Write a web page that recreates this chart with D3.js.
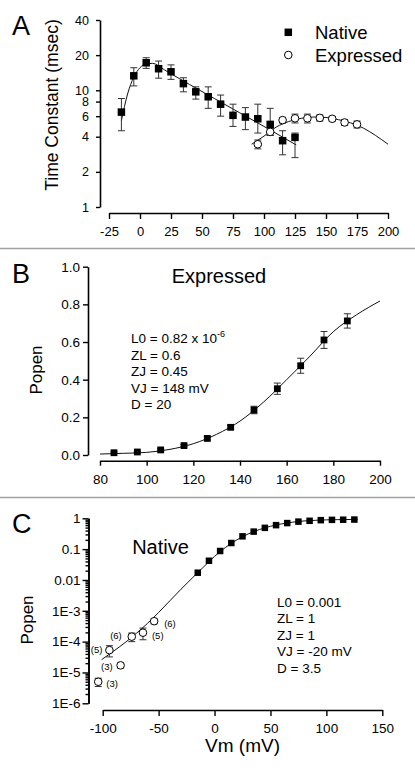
<!DOCTYPE html>
<html><head><meta charset="utf-8">
<script src="https://cdn.jsdelivr.net/npm/d3@7"></script>
<style>
html,body{margin:0;padding:0;background:#fff;}
svg{display:block;}
text{font-family:"Liberation Sans",Arial,sans-serif;fill:#000;}
</style></head>
<body>
<svg id="chart" width="415" height="773"></svg>
<script>
// ---------- Panel A data ----------
const aTicksX = [-25, 0, 25, 50, 75, 100, 125, 150, 175, 200];
const aTicksY = [1, 2, 4, 6, 8, 10, 20, 40];
const nativeV = [-15, -5, 5, 15, 25, 35, 45, 55, 65, 75, 85, 95, 105, 115, 125];
const nativeTau = [6.5, 13.3, 17.2, 15.3, 14.4, 11.4, 9.7, 8.8, 7.6, 6.1, 5.9, 5.7, 5.1, 3.7, 3.95];
const nativeErrHi = [2.0, 2.3, 1.8, 2.5, 2.1, 1.4, 1.0, 1.9, 1.5, 1.5, 1.2, 1.9, 1.9, 0.8, 0.35];
const nativeErrLo = [2.0, 2.4, 1.8, 2.6, 2.0, 1.7, 1.3, 1.8, 1.6, 1.2, 1.3, 1.4, 1.0, 0.9, 1.3];
const exprV_A = [95, 105, 115, 125, 135, 145, 155, 165, 175];
const exprTau = [3.45, 4.4, 5.55, 5.75, 5.75, 5.8, 5.7, 5.3, 5.1];
const exprErr_A = [0.3, 0.3, 0.3, 0.5, 0.5, 0.35, 0.25, 0.3, 0.35];
const nativeFitV = [-15, -10, -5, 0, 5, 10, 20, 30, 40, 60, 80, 100, 126];
const nativeFitTau = [5.5, 9.3, 13.0, 15.6, 16.9, 17.0, 14.9, 12.9, 11.2, 8.5, 6.45, 4.9, 3.4];
const exprFitV_A = [90, 100, 110, 120, 130, 140, 150, 160, 170, 180, 190, 200];
const exprFitTau = [3.45, 4.05, 4.85, 5.4, 5.75, 5.9, 5.85, 5.6, 5.25, 4.75, 4.1, 3.45];
const legendLabels = ["Native", "Expressed"];

// ---------- Panel B data ----------
const bTicksX = [80, 100, 120, 140, 160, 180, 200];
const bTicksY = [0.0, 0.2, 0.4, 0.6, 0.8, 1.0];
const exprV_B = [86, 96, 106, 116, 126, 136, 146, 156, 166, 176, 186];
const exprPo = [0.012, 0.016, 0.027, 0.05, 0.088, 0.147, 0.239, 0.352, 0.474, 0.611, 0.712];
const exprErr_B = [0.004, 0.004, 0.006, 0.006, 0.008, 0.01, 0.02, 0.03, 0.04, 0.045, 0.038];
const exprFitV_B = [80, 90, 100, 110, 120, 130, 140, 150, 160, 170, 180, 190, 200];
const exprFitPo = [0.005, 0.009, 0.014, 0.03, 0.06, 0.11, 0.18, 0.28, 0.40, 0.525, 0.655, 0.745, 0.818];
const bParams = ["ZL = 0.6", "ZJ = 0.45", "VJ = 148 mV", "D = 20"];

// ---------- Panel C data ----------
const cTicksX = [-100, -50, 0, 50, 100, 150];
const cTicksY = [1e-6, 1e-5, 1e-4, 1e-3, 1e-2, 1e-1, 1];
const cTickLabels = ["1E-6", "1E-5", "1E-4", "1E-3", "0.01", "0.1", "1"];
const natV_C = [-15, -5, 5, 15, 25, 35, 45, 55, 65, 75, 85, 95, 105, 115, 125];
const natPo_C = [0.0172, 0.042, 0.087, 0.158, 0.26, 0.37, 0.49, 0.6, 0.7, 0.78, 0.83, 0.87, 0.89, 0.9, 0.91];
const lowV_C = [-104, -94, -84, -74, -64, -54];
const lowPo_C = [5.0e-6, 5.3e-5, 1.7e-5, 1.45e-4, 1.95e-4, 4.6e-4];
const lowErr_C = [1.5e-6, 2.1e-5, 0.3e-5, 0.45e-4, 0.8e-4, 0.8e-4];
const lowN_C = [3, 5, 3, 6, 5, 6];
const natFitV_C = [-101, -90, -80, -70, -60, -50, -40, -30, -20, -10, 0, 10, 20, 30, 40, 50, 60, 70, 80, 90, 100, 110, 128];
const natFitPo_C = [2.6e-5, 5.0e-5, 9.3e-5, 1.85e-4, 3.9e-4, 8.8e-4, 2.1e-3, 5.0e-3, 1.15e-2, 2.6e-2, 5.8e-2, 0.115, 0.2, 0.31, 0.43, 0.55, 0.66, 0.75, 0.82, 0.86, 0.89, 0.905, 0.92];
const cParams = ["L0 = 0.001", "ZL = 1", "ZJ = 1", "VJ = -20 mV", "D = 3.5"];

// label placement for (n) annotations: [dx, dy, anchor]
const nLabelPos = [[8, 5, "start"], [-7, 3, "end"], [-8, 5, "end"], [-10, 2, "end"], [9, 6, "start"], [10, 6, "start"]];

const svg = d3.select("#chart");
const FONT = '"Liberation Sans",Arial,sans-serif';

function styleAxis(g, fs) {
  g.select(".domain").attr("stroke", "#000").attr("stroke-width", 1.6);
  g.selectAll(".tick line").attr("stroke", "#000").attr("stroke-width", 1.4);
  g.selectAll(".tick text").attr("font-size", fs + "px").attr("font-family", FONT).attr("fill", "#000");
  g.attr("font-family", FONT);
}
const fmt = d => String(d);

function errBars(g, xs, ys, hi, lo, x, y, cap, color) {
  const sel = g.append("g").attr("stroke", color).attr("stroke-width", 1).attr("fill", "none");
  xs.forEach((v, i) => {
    const px = x(v), top = y(ys[i] + hi[i]), bot = y(Math.max(ys[i] - lo[i], 1e-12));
    sel.append("line").attr("x1", px).attr("x2", px).attr("y1", top).attr("y2", bot);
    sel.append("line").attr("x1", px - cap).attr("x2", px + cap).attr("y1", top).attr("y2", top);
    sel.append("line").attr("x1", px - cap).attr("x2", px + cap).attr("y1", bot).attr("y2", bot);
  });
}
function squares(g, xs, ys, x, y, s) {
  g.append("g").selectAll("rect").data(xs).join("rect")
    .attr("x", (d) => x(d) - s / 2).attr("y", (d, i) => y(ys[i]) - s / 2)
    .attr("width", s).attr("height", s).attr("fill", "#000");
}
function circles(g, xs, ys, x, y, r) {
  g.append("g").selectAll("circle").data(xs).join("circle")
    .attr("cx", d => x(d)).attr("cy", (d, i) => y(ys[i])).attr("r", r)
    .attr("fill", "#fff").attr("stroke", "#000").attr("stroke-width", 1);
}
function fitLine(g, xs, ys, x, y) {
  const line = d3.line().x(d => x(d)).y((d, i) => y(ys[i])).curve(d3.curveMonotoneX);
  g.append("path").attr("d", line(xs)).attr("fill", "none").attr("stroke", "#111").attr("stroke-width", 1);
}
function label(txt, x, y, fs, opts = {}) {
  const t = svg.append("text").attr("x", x).attr("y", y).attr("font-size", fs + "px").text(txt);
  if (opts.anchor) t.attr("text-anchor", opts.anchor);
  if (opts.rotate) t.attr("x", 0).attr("y", 0).attr("transform", `translate(${x},${y}) rotate(-90)`);
  return t;
}

// separators
[248.5, 497.5].forEach(yy => svg.append("line").attr("x1", 0).attr("x2", 415).attr("y1", yy).attr("y2", yy)
  .attr("stroke", "#a0a0a0").attr("stroke-width", 1.5));

// ================= Panel A =================
{
  const x = d3.scaleLinear().domain([-25, 200]).range([109, 388]);
  const y = d3.scaleLog().domain([1, 40]).range([207, 20]);
  const g = svg.append("g");
  g.append("g").attr("transform", "translate(0,213)")
    .call(d3.axisBottom(x).tickValues(aTicksX).tickFormat(fmt).tickSize(6).tickSizeOuter(0).tickPadding(8))
    .call(a => styleAxis(a, 13));
  g.append("g").attr("transform", "translate(100,0)")
    .call(d3.axisLeft(y).tickValues(aTicksY).tickFormat(fmt).tickSize(4).tickSizeOuter(0).tickPadding(7))
    .call(a => styleAxis(a, 12.5));
  fitLine(g, nativeFitV, nativeFitTau, x, y);
  fitLine(g, exprFitV_A, exprFitTau, x, y);
  errBars(g, nativeV, nativeTau, nativeErrHi, nativeErrLo, x, y, 3.5, "#333");
  errBars(g, exprV_A, exprTau, exprErr_A, exprErr_A, x, y, 3.5, "#333");
  squares(g, nativeV, nativeTau, x, y, 7.5);
  circles(g, exprV_A, exprTau, x, y, 3.8);
  // legend
  g.append("rect").attr("x", 288.3 - 3.75).attr("y", 32.3 - 3.75).attr("width", 7.5).attr("height", 7.5).attr("fill", "#000");
  g.append("circle").attr("cx", 288.3).attr("cy", 55).attr("r", 3.8).attr("fill", "#fff").attr("stroke", "#000");
  label(legendLabels[0], 315, 38.8, 18.5);
  label(legendLabels[1], 315, 61.6, 18.5);
  label("A", 12, 35, 27);
  label("Time Constant (msec)", 58, 105, 17.5, { anchor: "middle", rotate: true });
}

// ================= Panel B =================
{
  const x = d3.scaleLinear().domain([80, 200]).range([100, 380]);
  const y = d3.scaleLinear().domain([0, 1]).range([455, 266.7]);
  const g = svg.append("g");
  g.append("g").attr("transform", "translate(0,460.7)")
    .call(d3.axisBottom(x).tickValues(bTicksX).tickFormat(fmt).tickSize(5).tickSizeOuter(0).tickPadding(9))
    .call(a => styleAxis(a, 13.5));
  g.append("g").attr("transform", "translate(88,0)")
    .call(d3.axisLeft(y).tickValues(bTicksY).tickFormat(d3.format(".1f")).tickSize(5).tickSizeOuter(0).tickPadding(3))
    .call(a => styleAxis(a, 13.5));
  fitLine(g, exprFitV_B, exprFitPo, x, y);
  errBars(g, exprV_B, exprPo, exprErr_B, exprErr_B, x, y, 3.5, "#333");
  squares(g, exprV_B, exprPo, x, y, 6.8);
  label("B", 12, 283.3, 27);
  label("Expressed", 219, 283, 20, { anchor: "middle" });
  label("Popen", 41.5, 370, 17, { anchor: "middle", rotate: true });
  const t = label("L0 = 0.82 x 10", 131, 343, 13.5);
  t.append("tspan").attr("dy", -6).attr("font-size", "9px").text("-6");
  bParams.forEach((s, i) => label(s, 131, 359.5 + i * 16.5, 13.5));
}

// ================= Panel C =================
{
  const x = d3.scaleLinear().domain([-100, 150]).range([102.7, 382.3]);
  const y = d3.scaleLog().domain([1e-6, 1]).range([703.3, 518.3]);
  const g = svg.append("g");
  g.append("g").attr("transform", "translate(0,710)")
    .call(d3.axisBottom(x).tickValues(cTicksX).tickFormat(fmt).tickSize(6).tickSizeOuter(0).tickPadding(7))
    .call(a => styleAxis(a, 13.5));
  const minor = [];
  for (let e = -6; e < 0; e++) for (let m = 2; m <= 9; m++) minor.push(m * Math.pow(10, e));
  g.append("g").attr("transform", "translate(88.5,0)")
    .call(d3.axisLeft(y).tickValues(minor).tickFormat("").tickSize(3).tickSizeOuter(0))
    .call(a => styleAxis(a, 13.5));
  g.append("g").attr("transform", "translate(88.5,0)")
    .call(d3.axisLeft(y).tickValues(cTicksY).tickFormat((d, i) => cTickLabels[i]).tickSize(6).tickSizeOuter(0).tickPadding(2))
    .call(a => styleAxis(a, 13.5));
  fitLine(g, natFitV_C, natFitPo_C, x, y);
  errBars(g, lowV_C, lowPo_C, lowErr_C, lowErr_C, x, y, 3.5, "#333");
  circles(g, lowV_C, lowPo_C, x, y, 3.8);
  squares(g, natV_C, natPo_C, x, y, 6.5);
  lowV_C.forEach((v, i) => {
    const p = nLabelPos[i];
    svg.append("text").attr("x", x(v) + p[0]).attr("y", y(lowPo_C[i]) + p[1]).attr("text-anchor", p[2])
      .attr("font-size", "9.5px").text("(" + lowN_C[i] + ")");
  });
  label("C", 12, 533.3, 27);
  label("Native", 160.5, 553.5, 20, { anchor: "middle" });
  label("Popen", 33, 620, 17, { anchor: "middle", rotate: true });
  cParams.forEach((s, i) => label(s, 277, 606.5 + i * 16.5, 13.5));
  label("Vm (mV)", 242.5, 752, 19, { anchor: "middle" });
}
</script>
</body></html>
